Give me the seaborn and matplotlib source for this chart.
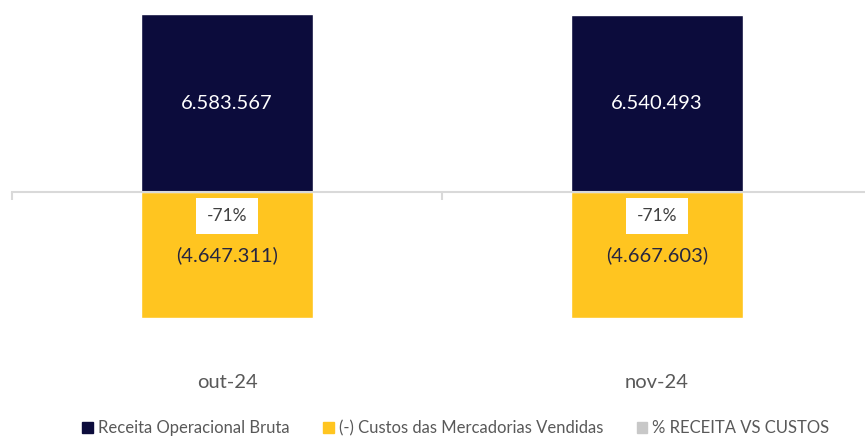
import numpy as np
import pandas as pd
import seaborn as sns
import matplotlib.pyplot as plt
from matplotlib.patches import Patch

# dados do grafico
meses = ['out-24', 'nov-24']
receita = [6583567, 6540493]
custos = [-4647311, -4667603]
pct_labels = ['-71%', '-71%']

serie_rec = 'Receita Operacional Bruta'
serie_cus = '(-) Custos das Mercadorias Vendidas'
serie_pct = '% RECEITA VS CUSTOS'

cor_rec = '#0C0C3C'
cor_cus = '#FFC520'
cor_pct = '#C8C8C8'

df = pd.DataFrame({
    'mes': meses * 2,
    'valor': receita + custos,
    'serie': [serie_rec] * len(meses) + [serie_cus] * len(meses),
})

sns.set_style('white')
plt.rcParams['font.family'] = ['Lato', 'DejaVu Sans']

fig = plt.figure(figsize=(8.65, 4.37), dpi=100)
# eixo passa da borda direita, como no original
ax = fig.add_axes([12 / 865, 1 - 372 / 437, 860 / 865, 372 / 437])

sns.barplot(data=df, x='mes', y='valor', hue='serie', dodge=False, width=0.4,
            palette=[cor_rec, cor_cus], saturation=1, ax=ax, legend=False)

ax.set_xlim(-0.5, 1.5)
ax.set_ylim(-(372 - 192) * 36987, 192 * 36987)

# eixo no zero
for s in ['top', 'right', 'left']:
    ax.spines[s].set_visible(False)
ax.spines['bottom'].set_position(('data', 0))
ax.spines['bottom'].set_color('#D9D9D9')
ax.spines['bottom'].set_linewidth(1.5)
ax.set_yticks([])
ax.set_xticks([-0.5, 0.5, 1.5], minor=True)
ax.tick_params(axis='x', which='minor', bottom=True, length=6, width=1.5, color='#D9D9D9')
ax.tick_params(axis='x', which='major', bottom=True, length=0, pad=131, labelsize=14.5,
               labelcolor='#595959')
ax.set_xlabel('')
ax.set_ylabel('')

# rotulos
for i in range(len(meses)):
    ax.text(i, receita[i] / 2, f"{receita[i]:,}".replace(',', '.'), ha='center', va='center',
            color='white', fontsize=14.5)
    ax.text(i, custos[i] / 2, "(" + f"{-custos[i]:,}".replace(',', '.') + ")", ha='center',
            va='center', color='#262640', fontsize=14.5)
    ax.annotate(pct_labels[i], xy=(i, 0), xytext=(0, -24), textcoords='offset pixels',
                ha='center', va='center', fontsize=12.5, color='#404040',
                bbox=dict(boxstyle='square,pad=0.6', fc='white', ec='none'))

handles = [Patch(color=cor_rec), Patch(color=cor_cus), Patch(color=cor_pct)]
fig.legend(handles, [serie_rec, serie_cus, serie_pct], loc='lower center', ncol=3,
           frameon=False, bbox_to_anchor=(0.527, -0.032), handlelength=0.65, handleheight=0.65,
           handletextpad=0.3, columnspacing=2.0, prop={'size': 12}, labelcolor='#595959')

fig.savefig('out.png', dpi=100)
